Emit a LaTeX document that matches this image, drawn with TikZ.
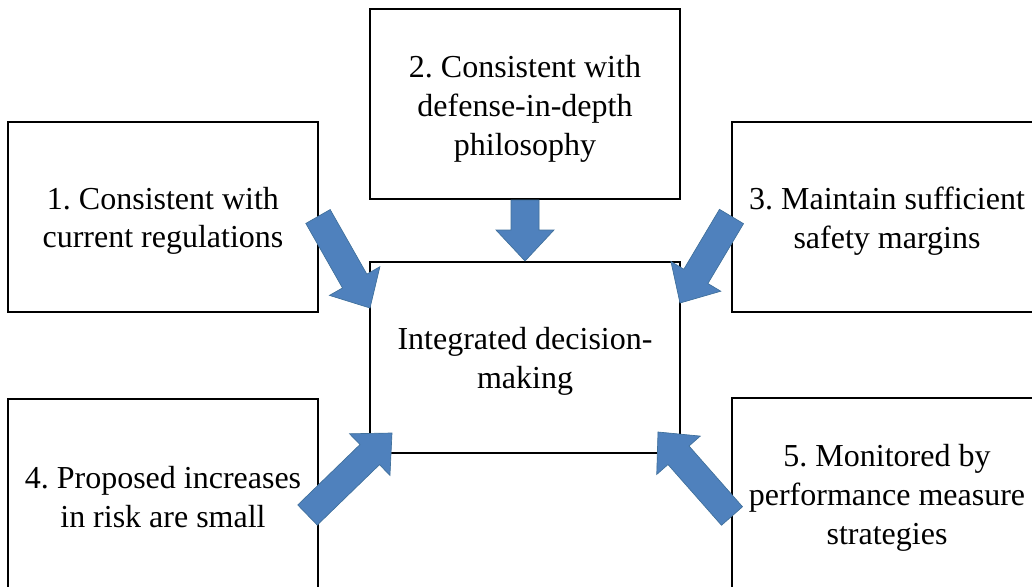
\documentclass[tikz,border=0pt]{standalone}
\usepackage{fontspec}
\setmainfont{Liberation Serif}
\usetikzlibrary{calc}
\frenchspacing

\definecolor{arrowblue}{HTML}{4F81BD}
\definecolor{arrowedge}{HTML}{41719C}
\definecolor{arrowshade}{HTML}{A9C2E2}

\tikzset{
  factor/.style={draw=black, line width=1.5pt, fill=white,
    minimum width=232.5pt, minimum height=142.5pt, inner sep=0pt},
  caption/.style={align=center, inner sep=0pt, font=\fontsize{24}{29}\selectfont},
  blockfill/.style={fill=arrowblue, draw=arrowedge, line width=0.5pt, line join=miter},
  blockshade/.style={fill=arrowshade, xshift=1.5pt, yshift=-2.25pt},
}

% fat block arrow from tail coordinate #2 to tip coordinate #3
\newcommand\blockarrow[3][blockfill]{%
  \coordinate (ba-h) at ($(#3)!23.25pt!(#2)$);
  \path[#1]
    ($(#2)!10.5pt!90:(#3)$) --
    ($(ba-h)!10.5pt!90:(#3)$) --
    ($(ba-h)!21.75pt!90:(#3)$) --
    (#3) --
    ($(ba-h)!21.75pt!-90:(#3)$) --
    ($(ba-h)!10.5pt!-90:(#3)$) --
    ($(#2)!10.5pt!-90:(#3)$) -- cycle;
}
\newcommand\shadedarrow[2]{%
  \blockarrow[blockshade]{#1}{#2}%
  \blockarrow[blockfill]{#1}{#2}%
}

\begin{document}
\begin{tikzpicture}[x=0.75pt, y=-0.75pt]
  \useasboundingbox (0,0) rectangle (1032,586);
  \clip (0,0) rectangle (1032,586);
  \fill[white] (0,0) rectangle (1032,586);

  % surrounding principles
  \node[factor] (p1) at (163,217) {};
  \node[factor] (p2) at (525,104) {};
  \node[factor] (p3) at (887,217) {};
  \node[factor] (p4) at (163,494) {};
  \node[factor, minimum height=145.5pt] (p5) at (887,495) {};
  % central box
  \node[factor, minimum height=143.25pt] (idm) at (525,357.5) {};

  % box texts
  \node[caption] (c1) at ($(p1.center)+(0,4)$) {1. Consistent with\\current regulations};
  \node[caption] (c2) at ($(p2.center)+(0,5)$) {2. Consistent with\\defense-in-depth\\philosophy};
  \node[caption] (c3) at ($(p3.center)+(0,4)$) {3. Maintain sufficient\\safety margins};
  \node[caption] (c4) at ($(p4.center)+(0,3)$) {4. Proposed increases\\in risk are small};
  \node[caption] (c5) at ($(p5.center)+(0,3)$) {5. Monitored by\\performance measure\\strategies};
  \node[caption] (ci) at ($(idm.center)+(0,4)$) {Integrated decision-\\making};

  % arrow tails and tips
  \coordinate (t1) at (318,216.5);  \coordinate (h1) at (370,308);
  \coordinate (t2) at (p2.south);   \coordinate (h2) at (idm.north);
  \coordinate (t3) at (731.5,216.5);\coordinate (h3) at (680,303);
  \coordinate (t4) at (307.5,515);  \coordinate (h4) at (392,433);
  \coordinate (t5) at (732,516);    \coordinate (h5) at (658,432);

  \shadedarrow{t1}{h1}
  \shadedarrow{t2}{h2}
  \shadedarrow{t3}{h3}
  \shadedarrow{t4}{h4}
  \shadedarrow{t5}{h5}
\end{tikzpicture}
\end{document}
